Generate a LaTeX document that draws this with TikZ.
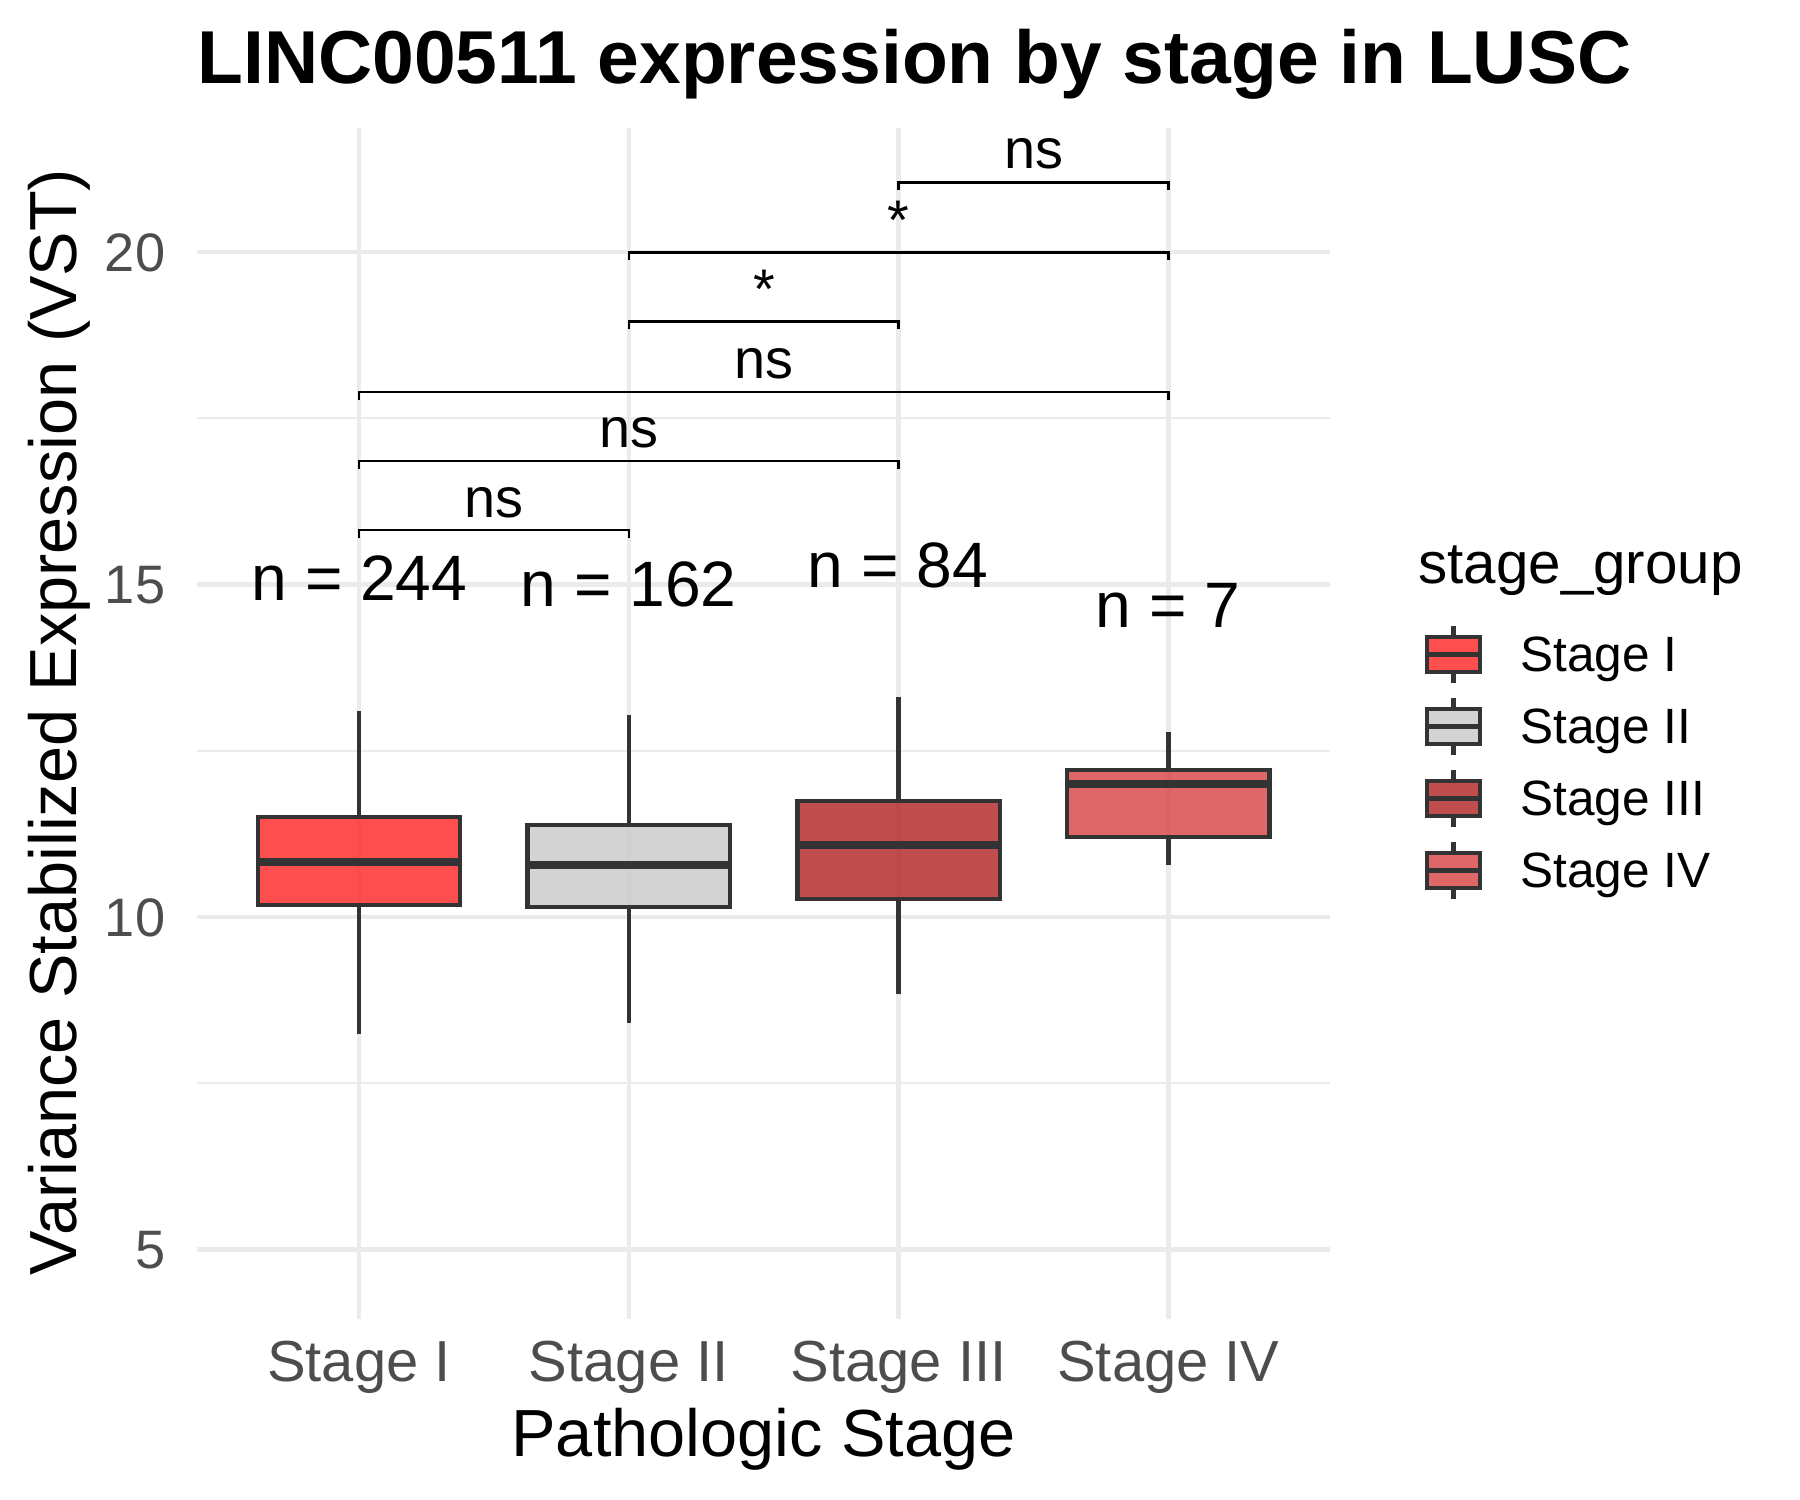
\documentclass[tikz,border=0pt]{standalone}
\usepackage{fontspec}
\setmainfont{Liberation Sans}
\definecolor{gridc}{HTML}{EBEBEB}
\definecolor{boxline}{HTML}{333333}
\definecolor{ticktext}{HTML}{4D4D4D}
\definecolor{fillI}{RGB}{255,34,34}
\definecolor{fillII}{RGB}{200,200,200}
\definecolor{fillIII}{RGB}{178,34,34}
\definecolor{fillIV}{RGB}{216,65,65}
\newcommand\mybox[7]{%
  \draw[whisk] (#1,#2) -- (#1,#3);
  \draw[whisk] (#1,#5) -- (#1,#6);
  \draw[bx,fill=#7] (#1-101.2,#3) rectangle (#1+101.2,#5);
  \draw[med] (#1-101.2,#4) -- (#1+101.2,#4);
}
\newcommand\mykey[2]{%
  \draw[whisk] (1453.6,#1-28.8) -- (1453.6,#1-17.5);
  \draw[whisk] (1453.6,#1+17.5) -- (1453.6,#1+28.8);
  \draw[bx,fill=#2] (1427,#1-17.5) rectangle (1480.2,#1+17.5);
  \draw[whisk] (1427,#1) -- (1480.2,#1);
}
\newcommand\mybracket[4]{% x1, x2, y, name
  \coordinate (#4a) at (#1,#3+8);
  \coordinate (#4b) at (#1,#3);
  \coordinate (#4c) at (#2,#3);
  \coordinate (#4d) at (#2,#3+8);
  \draw[brk] (#4a) -- (#4b) -- (#4c) -- (#4d);
}
\begin{document}
\begin{tikzpicture}[x=0.24pt,y=-0.24pt,
  grmaj/.style={draw=gridc,line width=1.06pt},
  grmin/.style={draw=gridc,line width=0.53pt},
  bx/.style={draw=boxline,line width=1.06pt,fill opacity=0.8},
  whisk/.style={draw=boxline,line width=1.06pt},
  med/.style={draw=boxline,line width=2.12pt},
  brk/.style={draw=black,line width=0.62pt},
  ticklab/.style={text=ticktext,font=\fontsize{13}{15}\selectfont,inner sep=0pt},
  xticklab/.style={text=ticktext,font=\fontsize{13.9}{16}\selectfont,inner sep=0pt},
  axtitle/.style={font=\fontsize{16}{19}\selectfont,inner sep=0pt},
  sig/.style={font=\fontsize{13.4}{16}\selectfont,inner sep=0pt,anchor=base},
  nlab/.style={font=\fontsize{15.4}{18}\selectfont,inner sep=0pt,anchor=base},
  legtitle/.style={font=\fontsize{14}{17}\selectfont,inner sep=0pt,anchor=base west},
  leglab/.style={font=\fontsize{11.9}{14}\selectfont,inner sep=0pt,anchor=base west}]
\useasboundingbox (0,0) rectangle (1800,1500);
% grid
\foreach \yy in {1083.25,750.75,418.25}{\draw[grmin] (197,\yy) -- (1330.4,\yy);}
\foreach \yy in {1249.5,917,584.5,252}{\draw[grmaj] (197,\yy) -- (1330.4,\yy);}
\foreach \xx in {359,628.8,898.6,1168.4}{\draw[grmaj] (\xx,128) -- (\xx,1319);}
% boxes
\mybox{359}{710.6}{817}{862}{905}{1034}{fillI}
\mybox{628.8}{715.2}{825}{865}{907}{1022.7}{fillII}
\mybox{898.6}{697.3}{801.3}{845}{899}{994}{fillIII}
\mybox{1168.4}{732}{770}{784}{837.3}{865}{fillIV}
% brackets
\mybracket{359}{628.8}{530}{b12}
\mybracket{359}{898.6}{461}{b13}
\mybracket{359}{1168.4}{392}{b14}
\mybracket{628.8}{898.6}{321.5}{b23}
\mybracket{628.8}{1168.4}{252.5}{b24}
\mybracket{898.6}{1168.4}{182.5}{b34}
\node[sig] (s12) at (494,517.3) {ns};
\node[sig] (s13) at (629,447.7) {ns};
\node[sig] (s14) at (763.7,378.3) {ns};
\node[sig] (s23) at (764,309) {*};
\node[sig] (s24) at (898.6,240) {*};
\node[sig] (s34) at (1033.5,169) {ns};
% n labels
\node[nlab] (n1) at (359.5,600.7) {n = 244};
\node[nlab] (n2) at (628.5,606.7) {n = 162};
\node[nlab] (n3) at (898,587.3) {n = 84};
\node[nlab] (n4) at (1168,627.3) {n = 7};
% axes
\node[ticklab,anchor=base east] (y5) at (166,1249.5+19.4) {5};
\node[ticklab,anchor=base east] (y10) at (166,917+19.4) {10};
\node[ticklab,anchor=base east] (y15) at (166,584.5+19.4) {15};
\node[ticklab,anchor=base east] (y20) at (166,252+19.4) {20};
\node[xticklab,anchor=base] (x1) at (359,1381.7) {Stage I};
\node[xticklab,anchor=base] (x2) at (628.8,1381.7) {Stage II};
\node[xticklab,anchor=base] (x3) at (898.6,1381.7) {Stage III};
\node[xticklab,anchor=base] (x4) at (1168.4,1381.7) {Stage IV};
\node[axtitle,anchor=base] (xt) at (763.5,1456.7) {Pathologic Stage};
\node[axtitle,anchor=base,rotate=90] (yt) at (76.7,722) {Variance Stabilized Expression (VST)};
\node[font=\fontsize{18}{22}\selectfont\bfseries,inner sep=0pt,anchor=base] (title) at (914.5,84) {LINC00511 expression by stage in LUSC};
% legend
\node[legtitle] (lt) at (1417.6,583.3) {stage\_group};
\mykey{654.7}{fillI}
\mykey{726.7}{fillII}
\mykey{798.7}{fillIII}
\mykey{870.7}{fillIV}
\node[leglab] (l1) at (1519.5,671.7) {Stage I};
\node[leglab] (l2) at (1519.5,743.7) {Stage II};
\node[leglab] (l3) at (1519.5,815.7) {Stage III};
\node[leglab] (l4) at (1519.5,887.7) {Stage IV};
\end{tikzpicture}
\end{document}
